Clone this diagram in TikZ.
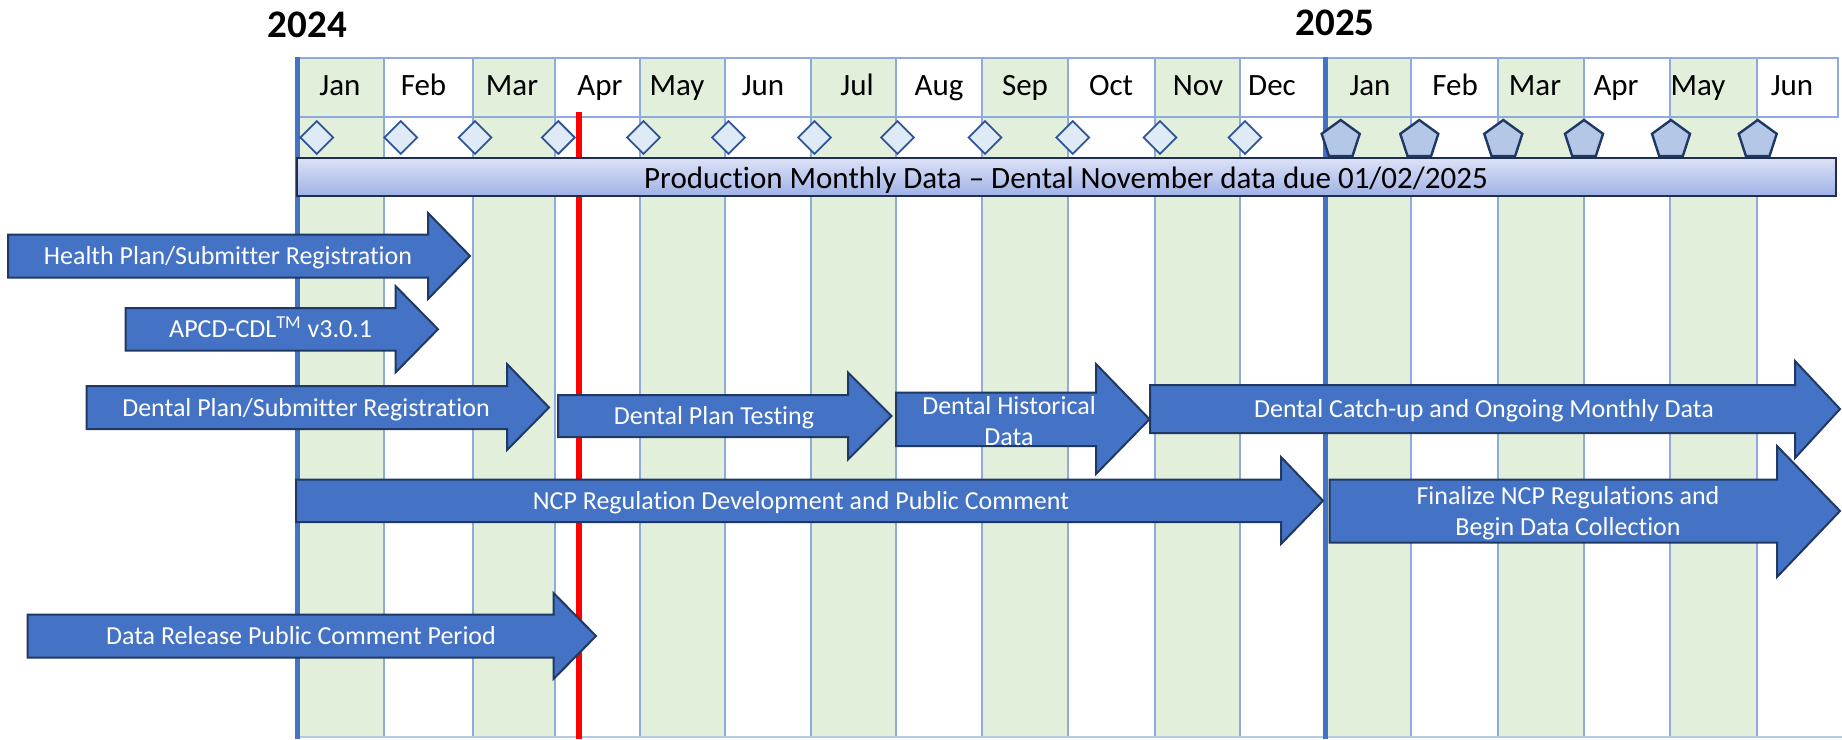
\documentclass[tikz,border=0pt]{standalone}
\usepackage{fontspec}
\setmainfont{Carlito}[RawFeature={-liga}]
\usetikzlibrary{shapes.geometric}
\definecolor{gridblue}{HTML}{8FAADC}
\definecolor{greenfill}{HTML}{E2EFDA}
\definecolor{accent}{HTML}{4472C4}
\definecolor{navy}{HTML}{203864}
\definecolor{dmdfill}{HTML}{DEEBF7}
\definecolor{dmdline}{HTML}{2F5597}
\definecolor{pentfill}{HTML}{B4C7E7}
\definecolor{pentline}{HTML}{1F3864}
\definecolor{bartop}{HTML}{DCE2F6}
\definecolor{barbot}{HTML}{A0B1E6}
\definecolor{barline}{HTML}{1F2D4F}
\definecolor{bottomline}{HTML}{B4C7E7}
\newcommand{\blockarr}[7]{\draw[arrowshape] (#1,#4) -- (#2,#4) -- (#2,#6) -- (#3,{(#4+#5)/2}) -- (#2,#7) -- (#2,#5) -- (#1,#5) -- cycle;}
\begin{document}
\begin{tikzpicture}[x=0.5pt,y=-0.5pt,
  gridline/.style={draw=gridblue,line width=1pt},
  month/.style={anchor=base,inner sep=0pt,font=\fontsize{15.5pt}{18pt}\selectfont},
  yearlabel/.style={anchor=base,inner sep=0pt,font=\fontsize{19.5pt}{22pt}\selectfont\bfseries},
  dmd/.style={diamond,aspect=1,minimum width=16.8pt,minimum height=16.8pt,inner sep=0pt,fill=dmdfill,draw=dmdline,line width=0.9pt},
  pent/.style={regular polygon,regular polygon sides=5,minimum size=20pt,inner sep=0pt,fill=pentfill,draw=pentline,line width=1.2pt},
  arrowshape/.style={fill=accent,draw=navy,line width=1pt,line join=miter},
  arrowtext/.style={text=white,inner sep=0pt,align=center,font=\fontsize{13pt}{15.5pt}\selectfont},
  bartext/.style={anchor=base,inner sep=0pt,font=\fontsize{15.5pt}{18pt}\selectfont}]
\useasboundingbox (0,0) rectangle (1842,739);
\fill[white] (0,0) rectangle (1842,739);
% columns and header
\foreach \l/\r/\t/\f/\c [count=\i] in {
 297/383.5/Jan/greenfill/340, 383.5/472.5/Feb/white/423.5, 472.5/554.5/Mar/greenfill/512,
 554.5/640/Apr/white/600, 640/725/May/greenfill/677, 725/811/Jun/white/763,
 811/896/Jul/greenfill/857, 896/982/Aug/white/939, 982/1068/Sep/greenfill/1025,
 1068/1155/Oct/white/1111, 1155/1240/Nov/greenfill/1198, 1240/1325/Dec/white/1272,
 1325/1411/Jan/greenfill/1370, 1411/1497.5/Feb/white/1455, 1497.5/1584/Mar/greenfill/1535,
 1584/1670/Apr/white/1616, 1670/1757/May/greenfill/1698, 1757/1838/Jun/white/1792}
{
  \fill[\f] (\l,117) rectangle (\r,737);
  \draw[gridline,fill=\f] (\l,58) rectangle (\r,117);
  \node[month] (m\i) at (\c,95) {\t};
}
\foreach \x in {383.5,472.5,554.5,640,725,811,896,982,1068,1155,1240,1411,1497.5,1584,1670,1757}
  \draw[gridline] (\x,117) -- (\x,737);
\draw[draw=bottomline,line width=0.8pt] (297,737) -- (1842,737);
% year dividers
\draw[accent,line width=2.5pt] (297,57) -- (297,739);
\draw[accent,line width=2.5pt] (1325,57) -- (1325,739);
% today line
\draw[red,line width=3pt] (579,112) -- (579,739);
% milestones
\foreach \x [count=\i] in {316.7,400.7,475,558.3,643.5,728.5,814.5,897.5,985,1072.7,1160,1245}
  \node[dmd] (d\i) at (\x,137.5) {};
\foreach \x [count=\i] in {1340.7,1419.3,1503.3,1584,1671,1757.7}
  \node[pent] (p\i) at (\x,140) {};
% production bar
\draw[top color=bartop,bottom color=barbot,draw=barline,line width=1.25pt] (297,158) rectangle (1836,196);
\node[bartext] (bar) at (1066,188) {Production Monthly Data -- Dental November data due 01/02/2025};
% arrows
\blockarr{8}{428}{470}{234.5}{277.5}{213}{299}
\node[arrowtext,anchor=base] (a1) at (228,264.5) {Health Plan/Submitter Registration};
\blockarr{125.5}{395.5}{438}{308}{350.5}{286}{372.5}
\node[arrowtext,anchor=base] (a2) at (270.6,337.5) {APCD-CDL\textsuperscript{TM} v3.0.1};
\blockarr{86.5}{507}{549}{386}{429}{364}{450}
\node[arrowtext,anchor=base] (a3) at (306,416) {Dental Plan/Submitter Registration};
\blockarr{558}{848}{891.5}{395}{437}{372.5}{459.5}
\node[arrowtext,anchor=base] (a4) at (714,424.5) {Dental Plan Testing};
\blockarr{896}{1096}{1149.5}{392.5}{446}{364}{474}
\node[arrowtext] (a5) at (1009,421) {Dental Historical\\Data};
\blockarr{1150}{1795}{1840}{385}{433}{361}{458}
\node[arrowtext,anchor=base] (a6) at (1484,417.5) {Dental Catch-up and Ongoing Monthly Data};
\blockarr{296}{1281}{1323}{479.5}{522}{457}{544}
\node[arrowtext,anchor=base] (a7) at (801,509) {NCP Regulation Development and Public Comment};
\blockarr{1329.5}{1777}{1840}{479.5}{542.5}{446}{577}
\node[arrowtext] (a8) at (1568,513) {Finalize NCP Regulations and\\Begin Data Collection};
\blockarr{27.5}{553.5}{596}{614.5}{657.5}{593}{679}
\node[arrowtext,anchor=base] (a9) at (301,644.5) {Data Release Public Comment Period};
% years
\node[yearlabel] (y2024) at (307.5,37) {2024};
\node[yearlabel] (y2025) at (1335,35) {2025};
\end{tikzpicture}
\end{document}
